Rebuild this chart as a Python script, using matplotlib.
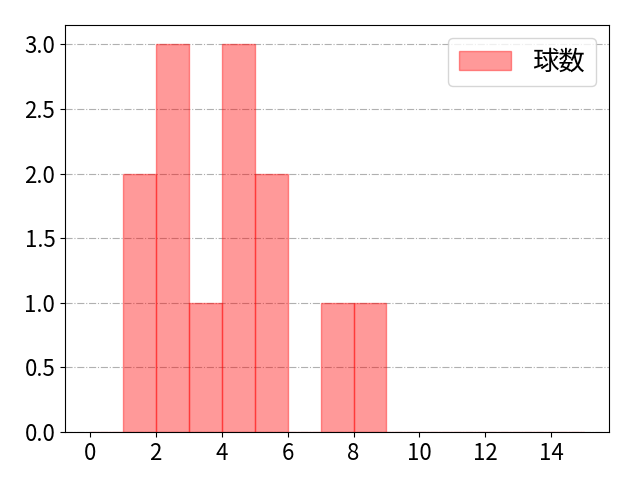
import matplotlib
matplotlib.use("Agg")
import matplotlib.pyplot as plt
import numpy as np

plt.rcParams['font.family'] = ['Noto Sans CJK JP', 'DejaVu Sans']

bin_edges = list(range(0, 16))
bin_lefts = bin_edges[:-1]
counts = [0, 2, 3, 1, 3, 2, 0, 1, 1, 0, 0, 0, 0, 0, 0]
label = "球数"

fig, ax = plt.subplots(figsize=(6.4, 4.8), dpi=100)
ax.hist(bin_lefts, bins=bin_edges, weights=counts, color='red', alpha=0.4,
        edgecolor='red', linewidth=1, label=label)
ax.grid(axis='y', linestyle='-.', color='#b0b0b0')
ax.set_axisbelow(True)
ax.set_xticks(range(0, 16, 2))
ax.tick_params(labelsize=16)
ax.legend(fontsize=19, loc='upper right')
fig.subplots_adjust(left=0.1016, right=0.9516, top=0.948, bottom=0.1)
fig.savefig("out.png")
